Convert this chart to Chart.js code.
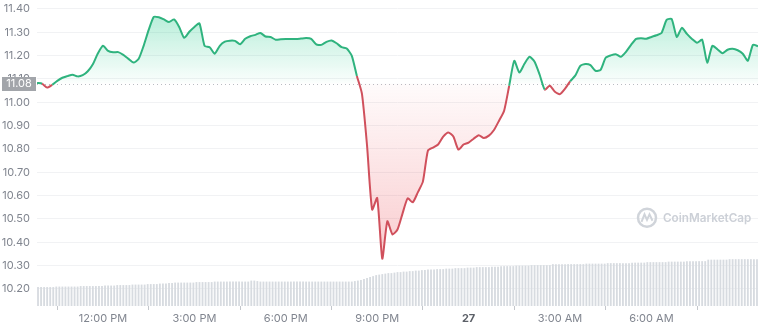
<!DOCTYPE html>
<html lang="en">
<head>
<meta charset="UTF-8">
<title>price chart</title>
<style>
  html, body { margin: 0; padding: 0; background: #fff; }
  #wrap { width: 760px; height: 327px; position: relative; }
</style>
</head>
<body>
<div id="wrap"><canvas id="myChart"></canvas></div>
<script src="https://cdn.jsdelivr.net/npm/chart.js"></script>
<script>
  // minutes relative to 12:00 PM
  const startMinute = -130;
  const priceStep = 10;
  const openPrice = 11.08;

  const prices = [
    11.083, 11.080, 11.063, 11.075, 11.092, 11.105, 11.112, 11.118, 11.111, 11.116,
    11.133, 11.163, 11.210, 11.242, 11.220, 11.214, 11.215, 11.203, 11.186, 11.170,
    11.185, 11.242, 11.310, 11.366, 11.364, 11.355, 11.344, 11.355, 11.323, 11.276,
    11.302, 11.323, 11.338, 11.242, 11.236, 11.208, 11.242, 11.260, 11.264, 11.263,
    11.249, 11.272, 11.283, 11.289, 11.297, 11.282, 11.280, 11.268, 11.270, 11.271,
    11.271, 11.271, 11.273, 11.275, 11.272, 11.248, 11.246, 11.259, 11.265, 11.253,
    11.236, 11.230, 11.199, 11.113, 11.036, 10.815, 10.540, 10.590, 10.330, 10.490,
    10.434, 10.455, 10.524, 10.588, 10.571, 10.614, 10.660, 10.793, 10.806, 10.819,
    10.853, 10.871, 10.853, 10.797, 10.819, 10.827, 10.844, 10.859, 10.847, 10.857,
    10.881, 10.921, 10.964, 11.071, 11.178, 11.127, 11.165, 11.195, 11.174, 11.118,
    11.054, 11.071, 11.045, 11.035, 11.058, 11.090, 11.114, 11.156, 11.164, 11.159,
    11.135, 11.139, 11.191, 11.201, 11.206, 11.195, 11.216, 11.246, 11.272, 11.274,
    11.272, 11.280, 11.287, 11.297, 11.353, 11.357, 11.280, 11.319, 11.293, 11.271,
    11.255, 11.268, 11.170, 11.242, 11.227, 11.210, 11.225, 11.229, 11.223, 11.208,
    11.178, 11.246, 11.240
  ];

  const volumeStart = -128;
  const volumeStep = 6;
  // 24h volume (M)
  const volumes = [
    19, 19, 19, 19, 19, 19, 19.5, 19.5, 19.5, 19.5, 19.5, 19.5, 19.5, 19.5, 20, 20, 20, 20, 20, 20,
    20, 20, 20.5, 20.5, 20.5, 20.5, 21, 21, 21, 21, 21, 21.5, 21.5, 21.5, 21.5, 21.5, 22, 22, 22, 22,
    22.5, 22.5, 22.5, 23, 23, 23.5, 23.5, 23.5, 23.5, 23.5, 23.5, 23.5, 24, 24, 24, 24, 24, 24, 24.5, 24.5,
    24.5, 24.5, 24.5, 24.5, 24.5, 24.5, 24.5, 24.5, 24.5, 24.5, 25.5, 25.5, 25, 24.5, 24.5, 24.5, 24.5, 24.5, 24.5, 24.5,
    24.5, 24.5, 24.5, 24.5, 24.5, 24.5, 24.5, 24.5, 24.5, 24.5, 24.5, 24.5, 24.5, 24.5, 24.5, 24.5, 24.5, 24.5, 24.5, 24.5,
    24.5, 24.5, 24.5, 24.5, 25, 25.5, 26, 27, 28, 29, 30, 31, 31.5, 32, 32.5, 33, 33, 33.5, 34, 34,
    34.5, 34.5, 35, 35, 35.5, 35.5, 36, 36, 36.5, 36.5, 36.5, 37, 37, 37, 37.5, 37.5, 37.5, 38, 38, 38,
    38, 38.5, 38.5, 38.5, 39, 39, 39, 39, 39, 39.5, 39.5, 39.5, 40, 40, 40, 40, 40, 40.5, 40.5, 40.5,
    40.5, 40.5, 41, 41, 41, 41, 41, 41, 41, 42, 42, 42, 42, 42, 42, 42, 42, 42, 42, 42,
    42.5, 42.5, 42.5, 42.5, 42.5, 42.5, 42.5, 43, 43, 43, 43, 43, 43, 43, 43, 43.5, 43.5, 43.5, 43.5, 43.5,
    44, 44, 44, 44, 44, 44, 44, 44.5, 44.5, 44.5, 44.5, 44.5, 44.5, 45, 45, 45, 45, 45, 45, 45,
    46.5, 46.5, 46.5, 46.5, 46.5, 46.5, 46.5, 47, 47, 47, 47, 47, 47, 47, 47, 47, 47
  ];

  const tickMinutes = [0, 180, 360, 540, 720, 900, 1080];
  const tickLabels = ["12:00 PM", "3:00 PM", "6:00 PM", "9:00 PM", "27", "3:00 AM", "6:00 AM"];
  const priceTicks = [10.2, 10.3, 10.4, 10.5, 10.6, 10.7, 10.8, 10.9, 11.0, 11.1, 11.2, 11.3, 11.4];

  const green = "#2fb37e";
  const red = "#d0505c";
  const labelGray = "#80858f";

  const pricePoints = prices.map((v, i) => ({ x: startMinute + i * priceStep, y: v }));
  const volumePoints = volumes.map((v, i) => ({ x: volumeStart + i * volumeStep, y: v }));

  const extras = {
    id: "extras",
    beforeDatasetsDraw(chart) {
      const ctx = chart.ctx;
      const area = chart.chartArea;
      const y = chart.scales.y.getPixelForValue(openPrice);
      ctx.save();
      // dotted open price line
      ctx.strokeStyle = "#b9bcc2";
      ctx.lineWidth = 1;
      ctx.setLineDash([1, 3]);
      ctx.beginPath();
      ctx.moveTo(area.left, Math.round(y) + 0.5);
      ctx.lineTo(area.right, Math.round(y) + 0.5);
      ctx.stroke();
      ctx.setLineDash([]);

      // watermark
      const wy = chart.scales.y.getPixelForValue(10.505);
      ctx.strokeStyle = "#d0d4da";
      ctx.lineWidth = 2.5;
      ctx.beginPath();
      ctx.arc(647, wy, 9, 0, Math.PI * 2);
      ctx.stroke();
      ctx.lineWidth = 2;
      ctx.beginPath();
      ctx.moveTo(641.5, wy + 4);
      ctx.lineTo(644.5, wy - 3.5);
      ctx.lineTo(647, wy + 2);
      ctx.lineTo(649.5, wy - 3.5);
      ctx.lineTo(652.5, wy + 3);
      ctx.stroke();
      ctx.fillStyle = "#ccd0d7";
      ctx.font = "600 11.7px Inter, 'Noto Sans', sans-serif";
      ctx.textBaseline = "middle";
      ctx.textAlign = "left";
      ctx.fillText("CoinMarketCap", 663, wy + 1);
      ctx.restore();
    },
    afterDraw(chart) {
      const ctx = chart.ctx;
      const y = chart.scales.y.getPixelForValue(openPrice);
      ctx.save();
      ctx.fillStyle = "#a2a5aa";
      ctx.fillRect(2, Math.round(y) - 7, 34, 14);
      ctx.fillStyle = "#fff";
      ctx.font = "11px Inter, 'Noto Sans', sans-serif";
      ctx.textAlign = "center";
      ctx.textBaseline = "middle";
      ctx.fillText(openPrice.toFixed(2), 19, Math.round(y));
      ctx.restore();
    }
  };

  const config = {
    data: {
      datasets: [
        {
          type: "line",
          data: pricePoints,
          yAxisID: "y",
          order: 0,
          borderColor: green,
          borderWidth: 2,
          pointRadius: 0,
          tension: 0.2,
          fill: false,
          segment: {
            borderColor: (c) => ((c.p0.parsed.y + c.p1.parsed.y) / 2 < openPrice ? red : green)
          }
        },
        {
          type: "bar",
          data: volumePoints,
          yAxisID: "y2",
          order: 1,
          backgroundColor: "#d7dbe0",
          barPercentage: 0.6,
          categoryPercentage: 1
        }
      ]
    },
    options: {
      responsive: true,
      maintainAspectRatio: false,
      animation: false,
      layout: { padding: { top: 0, right: 2, left: 0, bottom: 0 } },
      plugins: {
        legend: { display: false },
        tooltip: { enabled: false }
      },
      scales: {
        x: {
          type: "linear",
          offset: false,
          min: startMinute,
          max: startMinute + (prices.length - 1) * priceStep,
          afterBuildTicks: (scale) => {
            scale.ticks = tickMinutes.map((v) => ({ value: v }));
          },
          afterFit: (scale) => { scale.height = 21; },
          grid: { drawOnChartArea: false, tickLength: 4, color: "#c4c7cc" },
          border: { display: false },
          ticks: {
            autoSkip: false,
            maxRotation: 0,
            padding: 2,
            color: (c) => (tickLabels[c.index] === "27" ? "#5c6068" : labelGray),
            font: (c) => ({
              family: "Inter, 'Noto Sans', sans-serif",
              size: 11,
              weight: tickLabels[c.index] === "27" ? "bold" : "normal"
            }),
            callback: (v, i) => tickLabels[i]
          }
        },
        y: {
          position: "left",
          min: 10.127,
          max: 11.434,
          afterBuildTicks: (scale) => {
            scale.ticks = priceTicks.map((v) => ({ value: v }));
          },
          afterFit: (scale) => {
            scale.width = 37;
            scale.paddingTop = 0;
            scale.paddingBottom = 0;
          },
          grid: { color: "#f1f2f4", drawTicks: false },
          border: { display: false },
          ticks: {
            padding: 7,
            color: labelGray,
            font: { family: "Inter, 'Noto Sans', sans-serif", size: 11 },
            callback: (v) => Number(v).toFixed(2)
          }
        },
        y2: {
          display: false,
          min: 0,
          max: 306
        }
      }
    },
    plugins: [extras]
  };

  const myChart = new Chart(document.getElementById("myChart"), config);

  // gradient fills above / below the open price
  const ys = myChart.scales.y;
  const g = myChart.ctx.createLinearGradient(0, ys.getPixelForValue(Math.max(...prices)), 0, ys.getPixelForValue(openPrice));
  g.addColorStop(0, "rgba(22, 199, 132, 0.30)");
  g.addColorStop(1, "rgba(22, 199, 132, 0.02)");
  const r = myChart.ctx.createLinearGradient(0, ys.getPixelForValue(openPrice), 0, ys.getPixelForValue(Math.min(...prices)));
  r.addColorStop(0, "rgba(234, 57, 67, 0.02)");
  r.addColorStop(1, "rgba(234, 57, 67, 0.26)");
  myChart.data.datasets[0].fill = { target: { value: openPrice }, above: g, below: r };
  myChart.update("none");
</script>
</body>
</html>
